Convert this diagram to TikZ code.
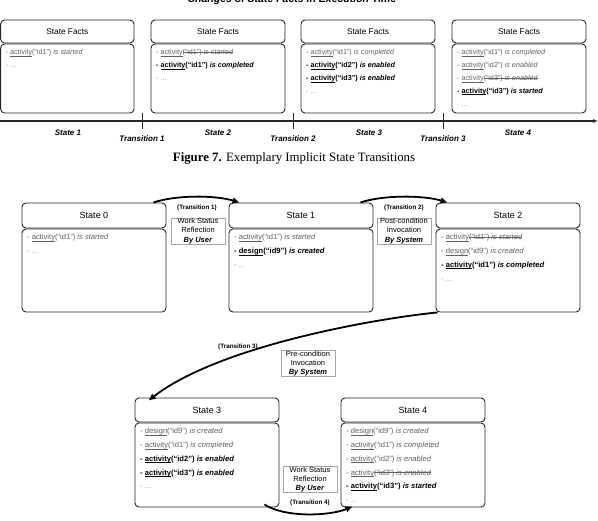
\documentclass[tikz,border=0pt]{standalone}
\usepackage{fontspec}
\setmainfont{Liberation Sans}
\newfontfamily\capfont{Liberation Serif}
\usetikzlibrary{arrows.meta}
\definecolor{factgray}{gray}{0.38}
\definecolor{dotgray}{gray}{0.6}
\definecolor{linecol}{gray}{0.15}
\newlength\ulwd
\newcommand{\myul}[1]{\settowidth{\ulwd}{#1}\rlap{\rule[-1.3pt]{\ulwd}{0.35pt}}#1}
\newcommand{\myso}[1]{\settowidth{\ulwd}{#1}\rlap{\rule[2.3pt]{\ulwd}{0.4pt}}#1}
\newcommand{\fgr}[3]{\textcolor{factgray}{- \myul{#1}(“#2”) \textit{#3}}}
\newcommand{\fbd}[3]{\textbf{- \myul{#1}(“#2”) \textit{#3}}}
\newcommand{\fst}[3]{\textcolor{factgray}{- \myul{#1}\myso{(“#2”) \textit{#3}}}}
\newcommand{\fdots}{\textcolor{dotgray}{- ...}}
\tikzset{
  box/.style={draw=linecol, line width=0.9pt, rounded corners=4pt, inner sep=0pt},
  tfact/.style={anchor=base west, inner sep=0pt, font=\fontsize{7.2}{8}\selectfont},
  bfact/.style={anchor=base west, inner sep=0pt, font=\fontsize{7.6}{9}\selectfont},
  tlabel/.style={inner sep=0pt, font=\fontsize{8}{9}\selectfont\bfseries\itshape},
  trlabel/.style={inner sep=0pt, font=\fontsize{6.3}{7}\selectfont\bfseries},
  trbox/.style={draw=gray!70, line width=0.6pt, fill=white, align=center, inner sep=0pt,
    minimum width=54pt, minimum height=26pt, font=\fontsize{7.5}{9.2}\selectfont},
  bigarrow/.style={line width=1.8pt, -{Latex[length=7pt,width=7pt]}},
}
% name, x1, x2, ytop, ymid, ybot, title
\newcommand{\mkstate}[7]{%
  \node[box, minimum width={#3-#2}, minimum height={#5-#4}] (#1h) at ({(#2+#3)/2},{(#4+#5)/2}) {#7};
  \node[box, minimum width={#3-#2}, minimum height={#6-#5-1}] (#1b) at ({(#2+#3)/2},{(#5+1+#6)/2}) {};
}
\begin{document}
\begin{tikzpicture}[x=1pt,y=-1pt]
\useasboundingbox (0,0) rectangle (598,521);
% ---------- upper figure ----------
\node[anchor=base, inner sep=0pt, font=\fontsize{10.5}{12}\selectfont\bfseries\itshape] (title) at (292,2.5) {Changes of State Facts in Execution Time};
\mkstate{ta}{0.6}{134}{20}{43}{113}{\fontsize{8.3}{10}\selectfont State Facts}
\mkstate{tb}{151}{285}{20}{43}{113}{\fontsize{8.3}{10}\selectfont State Facts}
\mkstate{tc}{301}{435}{20}{43}{113}{\fontsize{8.3}{10}\selectfont State Facts}
\mkstate{td}{452}{586}{20}{43}{113}{\fontsize{8.3}{10}\selectfont State Facts}
\node[tfact] (ta1) at (5.6,55) {\fgr{activity}{id1}{is started}};
\node[tfact] (ta2) at (5.6,67.8) {\fdots};
\node[tfact] (tb1) at (156,55) {\fst{activity}{id1}{is started}};
\node[tfact] (tb2) at (156,67.8) {\fbd{activity}{id1}{is completed}};
\node[tfact] (tb3) at (156,80.6) {\fdots};
\node[tfact] (tc1) at (306,55) {\fgr{activity}{id1}{is completed}};
\node[tfact] (tc2) at (306,67.8) {\fbd{activity}{id2}{is enabled}};
\node[tfact] (tc3) at (306,80.6) {\fbd{activity}{id3}{is enabled}};
\node[tfact] (tc4) at (306,93.4) {\fdots};
\node[tfact] (td1) at (457,55) {\fgr{activity}{id1}{is completed}};
\node[tfact] (td2) at (457,67.8) {\fgr{activity}{id2}{is enabled}};
\node[tfact] (td3) at (457,80.6) {\fst{activity}{id3}{is enabled}};
\node[tfact] (td4) at (457,93.4) {\fbd{activity}{id3}{is started}};
\node[tfact] (td5) at (457,106.2) {\fdots};
% timeline
\coordinate (tl0) at (0,121);
\coordinate (tl1) at (598,121);
\draw[line width=1.3pt, draw=linecol, -{Latex[length=5pt,width=4pt]}] (tl0) -- (tl1);
\foreach \x/\n in {142/1,293/2,443/3}{
  \coordinate (tk\n a) at (\x,113);
  \coordinate (tk\n b) at (\x,129);
  \draw[line width=0.9pt, draw=linecol] (tk\n a) -- (tk\n b);
}
\node[tlabel] (ls1) at (68,133) {State 1};
\node[tlabel] (lt1) at (142,139) {Transition 1};
\node[tlabel] (ls2) at (218,133) {State 2};
\node[tlabel] (lt2) at (293,139) {Transition 2};
\node[tlabel] (ls3) at (369,133) {State 3};
\node[tlabel] (lt3) at (443,139) {Transition 3};
\node[tlabel] (ls4) at (518,133) {State 4};
% caption
\node[anchor=base, inner sep=0pt, font=\capfont\fontsize{12.8}{14}\selectfont] (cap) at (294,162) {\textbf{Figure 7.} Exemplary Implicit State Transitions};
% ---------- lower figure ----------
\mkstate{s0}{22}{166}{203}{228}{312}{\fontsize{9}{11}\selectfont State 0}
\mkstate{s1}{229}{373}{203}{228}{312}{\fontsize{9}{11}\selectfont State 1}
\mkstate{s2}{436}{580}{203}{228}{312}{\fontsize{9}{11}\selectfont State 2}
\mkstate{s3}{135}{279}{398}{422}{507}{\fontsize{9}{11}\selectfont State 3}
\mkstate{s4}{341}{485}{398}{422}{507}{\fontsize{9}{11}\selectfont State 4}
\node[bfact] (s0f1) at (27,240) {\fgr{activity}{id1}{is started}};
\node[bfact] (s0f2) at (27,253.7) {\fdots};
\node[bfact] (s1f1) at (234,240) {\fgr{activity}{id1}{is started}};
\node[bfact] (s1f2) at (234,253.7) {\fbd{design}{id9}{is created}};
\node[bfact] (s1f3) at (234,267.4) {\fdots};
\node[bfact] (s2f1) at (441,240) {\fst{activity}{id1}{is started}};
\node[bfact] (s2f2) at (441,253.7) {\fgr{design}{id9}{is created}};
\node[bfact] (s2f3) at (441,267.4) {\fbd{activity}{id1}{is completed}};
\node[bfact] (s2f4) at (441,281.1) {\fdots};
\node[bfact] (s3f1) at (140,434) {\fgr{design}{id9}{is created}};
\node[bfact] (s3f2) at (140,447.7) {\fgr{activity}{id1}{is completed}};
\node[bfact] (s3f3) at (140,461.4) {\fbd{activity}{id2}{is enabled}};
\node[bfact] (s3f4) at (140,475.1) {\fbd{activity}{id3}{is enabled}};
\node[bfact] (s3f5) at (140,488.8) {\fdots};
\node[bfact] (s4f1) at (346,434) {\fgr{design}{id9}{is created}};
\node[bfact] (s4f2) at (346,447.7) {\fgr{activity}{id1}{is completed}};
\node[bfact] (s4f3) at (346,461.4) {\fgr{activity}{id2}{is enabled}};
\node[bfact] (s4f4) at (346,475.1) {\fst{activity}{id3}{is enabled}};
\node[bfact] (s4f5) at (346,488.8) {\fbd{activity}{id3}{is started}};
\node[bfact] (s4f6) at (346,502.5) {\fdots};
% transition labels and boxes
\node[trlabel] (t1l) at (197,208) {(Transition 1)};
\node[trbox] (t1b) at (198,231) {Work Status\\Reflection\\\textbf{\textit{By User}}};
\node[trlabel] (t2l) at (404,208) {(Transition 2)};
\node[trbox] (t2b) at (404,231) {Post-condition\\Invocation\\\textbf{\textit{By System}}};
\node[trlabel] (t3l) at (238,347) {(Transition 3)};
\node[trbox] (t3b) at (308,363.5) {Pre-condition\\Invocation\\\textbf{\textit{By System}}};
\node[trlabel] (t4l) at (310,503) {(Transition 4)};
\node[trbox] (t4b) at (310,479.5) {Work Status\\Reflection\\\textbf{\textit{By User}}};
% arrows
\draw[bigarrow] ([xshift=-13pt]s0h.north east) .. controls (175,195) and (215,195) .. ([xshift=11pt]s1h.north west);
\draw[bigarrow] ([xshift=-13pt]s1h.north east) .. controls (382,195) and (423,195) .. ([xshift=12pt]s2h.north west);
\draw[bigarrow] ([xshift=2pt]s2b.south west) .. controls (380,318) and (220,345) .. ([xshift=14pt,yshift=-3pt]s3h.north west);
\draw[bigarrow] ([xshift=-15pt,yshift=3pt]s3b.south east) .. controls (285,518) and (330,516) .. ([xshift=12pt,yshift=1pt]s4b.south west);
\end{tikzpicture}
\end{document}
